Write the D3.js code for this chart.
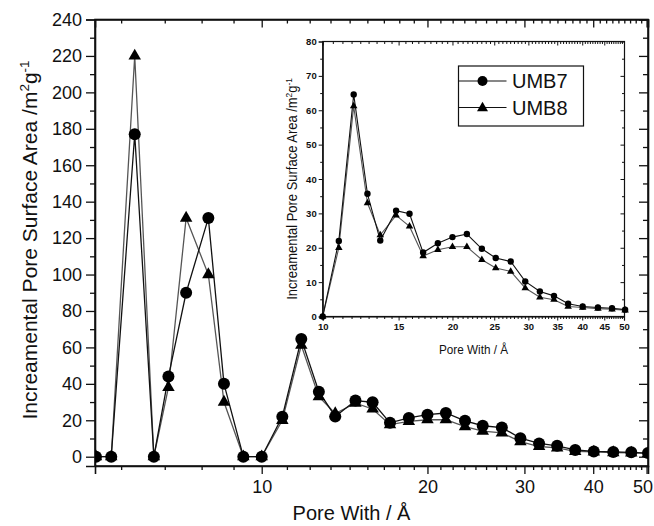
<!DOCTYPE html>
<html>
<head>
<meta charset="utf-8">
<script src="https://cdn.jsdelivr.net/npm/d3@7/dist/d3.min.js"></script>
<style>
  html, body { margin: 0; padding: 0; background: #fff; }
  svg { display: block; }
  text { font-family: "Liberation Sans", Arial, Helvetica, sans-serif; fill: #111; }
</style>
</head>
<body>
<svg id="chart" width="654" height="526"></svg>
<script>
// ---------------- DATA ----------------
const poreWidth = [5.0, 5.33, 5.88, 6.37, 6.77, 7.29, 8.0, 8.54, 9.26, 10.0,
  10.9, 11.8, 12.7, 13.6, 14.8, 15.9, 17.1, 18.5, 20.0, 21.6, 23.4, 25.2, 27.3,
  29.5, 31.9, 34.4, 37.1, 40.1, 43.5, 46.9, 50.3];
const umb7 = [0, 0, 177, 0, 44, 90, 131, 40, 0, 0,
  22.0, 64.6, 35.7, 22.1, 30.8, 29.9, 18.6, 21.3, 23.1, 24.0, 19.7, 17.0, 16.0,
  10.2, 7.3, 6.0, 3.7, 2.9, 2.6, 2.4, 2.0];
const umb8 = [0, 0, 220, 0, 38, 131, 100, 30, 0, 0,
  20.0, 61.2, 33.0, 23.7, 29.4, 26.2, 17.6, 19.4, 20.3, 20.3, 16.5, 14.1, 13.1,
  8.3, 5.6, 4.9, 2.9, 2.6, 2.3, 2.1, 1.8];
const seriesNames = ["UMB7", "UMB8"];

const mainXTicks = [10, 20, 30, 40, 50];
const mainYTicks = [0, 20, 40, 60, 80, 100, 120, 140, 160, 180, 200, 220, 240];
const insetXTicks = [10, 15, 20, 25, 30, 35, 40, 45, 50];
const insetYTicks = [0, 10, 20, 30, 40, 50, 60, 70, 80];

const mainXLabel = "Pore With / Å";
const mainYLabel = "Increamental Pore Surface Area /m";
// ---------------------------------------

const svg = d3.select("#chart");

const rows = poreWidth.map((p, i) => ({ p, a: umb7[i], b: umb8[i] }));

// ---------- main chart ----------
const M = { left: 95, right: 648, top: 19.5, bottom: 466 };
const x = d3.scaleLog().domain([4.98, 50.3]).range([M.left, M.right]);
const y = d3.scaleLinear().domain([-5.1, 240]).range([M.bottom, M.top]);

function minorBetween(majors, step, extent, parts) {
  const out = [];
  const first = majors[0] - step;
  for (let m = first; m <= majors[majors.length - 1]; m += step) {
    for (let j = 1; j < parts; j++) {
      const v = m + step * j / parts;
      if (v >= extent[0] && v <= extent[1]) out.push(v);
    }
  }
  return out;
}
const mainXMinor = minorBetween(mainXTicks, 10, x.domain(), 9);
const mainYMinor = mainYTicks.map(v => v + 10).filter(v => v < 240);

const axisStyle = g => {
  g.selectAll(".domain").attr("stroke", "#111").attr("stroke-width", 1.6);
  g.selectAll(".tick line").attr("stroke", "#111").attr("stroke-width", 1.3);
};

// frame
svg.append("rect").attr("x", M.left).attr("y", M.top)
  .attr("width", M.right - M.left).attr("height", M.bottom - M.top)
  .attr("fill", "none").attr("stroke", "#111").attr("stroke-width", 1.6);

// bottom axis
const gxb = svg.append("g").attr("transform", `translate(0,${M.bottom})`);
gxb.call(d3.axisBottom(x).tickValues(mainXTicks).tickFormat(d3.format("d")).tickSize(8).tickPadding(6))
  .call(axisStyle);
gxb.selectAll("text").attr("font-size", 18).attr("fill", "#111")
  .attr("dx", d => d === 50 ? -4 : 0);
svg.append("g").attr("transform", `translate(0,${M.bottom})`)
  .call(d3.axisBottom(x).tickValues(mainXMinor).tickFormat("").tickSize(4)).call(axisStyle)
  .select(".domain").remove();
// top axis (inward)
svg.append("g").attr("transform", `translate(0,${M.top})`)
  .call(d3.axisTop(x).tickValues(mainXTicks).tickFormat("").tickSize(-8)).call(axisStyle);
svg.append("g").attr("transform", `translate(0,${M.top})`)
  .call(d3.axisTop(x).tickValues(mainXMinor).tickFormat("").tickSize(-4)).call(axisStyle)
  .select(".domain").remove();

// left axis
const gyl = svg.append("g").attr("transform", `translate(${M.left},0)`);
gyl.call(d3.axisLeft(y).tickValues(mainYTicks).tickFormat(d3.format("d")).tickSize(9).tickPadding(4))
  .call(axisStyle);
gyl.selectAll("text").attr("font-size", 18).attr("fill", "#111");
svg.append("g").attr("transform", `translate(${M.left},0)`)
  .call(d3.axisLeft(y).tickValues(mainYMinor).tickFormat("").tickSize(5)).call(axisStyle)
  .select(".domain").remove();
// right axis (inward)
svg.append("g").attr("transform", `translate(${M.right},0)`)
  .call(d3.axisRight(y).tickValues(mainYTicks).tickFormat("").tickSize(-9)).call(axisStyle);
svg.append("g").attr("transform", `translate(${M.right},0)`)
  .call(d3.axisRight(y).tickValues(mainYMinor).tickFormat("").tickSize(-5)).call(axisStyle)
  .select(".domain").remove();

// clip
svg.append("clipPath").attr("id", "mainClip").append("rect")
  .attr("x", M.left).attr("y", M.top).attr("width", M.right - M.left).attr("height", M.bottom - M.top);

const symCircle = r => d3.symbol().type(d3.symbolCircle).size(Math.PI * r * r)();
const symTri = s => d3.symbol().type(d3.symbolTriangle).size(Math.sqrt(3) / 4 * s * s)();

function drawSeries(g, xs, ys, data, opt) {
  const lineA = d3.line().x(d => xs(d.p)).y(d => ys(d.a));
  const lineB = d3.line().x(d => xs(d.p)).y(d => ys(d.b));
  g.append("path").datum(data).attr("d", lineB).attr("fill", "none")
    .attr("stroke", "#555").attr("stroke-width", opt.lw);
  g.append("path").datum(data).attr("d", lineA).attr("fill", "none")
    .attr("stroke", "#111").attr("stroke-width", opt.lw);
  g.selectAll(".tri").data(data).join("path").attr("class", "tri")
    .attr("transform", d => `translate(${xs(d.p)},${ys(d.b)})`)
    .attr("d", symTri(opt.tri)).attr("fill", "#000");
  g.selectAll(".cir").data(data).join("path").attr("class", "cir")
    .attr("transform", d => `translate(${xs(d.p)},${ys(d.a)})`)
    .attr("d", symCircle(opt.r)).attr("fill", "#000");
}

const gMain = svg.append("g").attr("clip-path", "url(#mainClip)");
drawSeries(gMain, x, y, rows, { lw: 1.3, r: 6, tri: 12.5 });

// main axis titles
svg.append("text").attr("x", 351.5).attr("y", 520).attr("text-anchor", "middle")
  .attr("font-size", 20).text(mainXLabel);

const yl = svg.append("text").attr("transform", "translate(37,240) rotate(-90)")
  .attr("text-anchor", "middle").attr("font-size", 21);
yl.append("tspan").text(mainYLabel);
yl.append("tspan").attr("dy", -8).attr("font-size", 13.5).text("2");
yl.append("tspan").attr("dy", 8).text("g");
yl.append("tspan").attr("dy", -8).attr("font-size", 13.5).text("-1");

// ---------- inset ----------
const I = { left: 322.7, right: 624.5, top: 41.5, bottom: 316.5 };
const xi = d3.scaleLog().domain([10, 50]).range([I.left, 624]);
const yi = d3.scaleLinear().domain([0, 80]).range([I.bottom, I.top]);
const insetXMinor = minorBetween(insetXTicks, 5, [10, 50], 9);
const insetYMinor = insetYTicks.map(v => v + 5).filter(v => v < 80);

svg.append("rect").attr("x", I.left).attr("y", I.top)
  .attr("width", I.right - I.left).attr("height", I.bottom - I.top)
  .attr("fill", "#fff").attr("stroke", "#111").attr("stroke-width", 1.2);

const insetAxisStyle = g => {
  g.selectAll(".domain").attr("stroke", "#111").attr("stroke-width", 1.2);
  g.selectAll(".tick line").attr("stroke", "#111").attr("stroke-width", 1);
};
const gxi = svg.append("g").attr("transform", `translate(0,${I.bottom})`);
gxi.call(d3.axisBottom(xi).tickValues(insetXTicks).tickFormat(d3.format("d")).tickSize(4).tickPadding(3))
  .call(insetAxisStyle);
gxi.selectAll("text").attr("font-size", 9.5).attr("font-weight", "bold").attr("fill", "#111");
svg.append("g").attr("transform", `translate(0,${I.bottom})`)
  .call(d3.axisBottom(xi).tickValues(insetXMinor).tickFormat("").tickSize(2.5)).call(insetAxisStyle)
  .select(".domain").remove();
svg.append("g").attr("transform", `translate(0,${I.top})`)
  .call(d3.axisTop(xi).tickValues(insetXTicks).tickFormat("").tickSize(-4)).call(insetAxisStyle)
  .select(".domain").remove();
svg.append("g").attr("transform", `translate(0,${I.top})`)
  .call(d3.axisTop(xi).tickValues(insetXMinor).tickFormat("").tickSize(-2.5)).call(insetAxisStyle)
  .select(".domain").remove();

const gyi = svg.append("g").attr("transform", `translate(${I.left},0)`);
gyi.call(d3.axisLeft(yi).tickValues(insetYTicks).tickFormat(d3.format("d")).tickSize(4).tickPadding(2))
  .call(insetAxisStyle);
gyi.selectAll("text").attr("font-size", 9.5).attr("font-weight", "bold").attr("fill", "#111");
svg.append("g").attr("transform", `translate(${I.left},0)`)
  .call(d3.axisLeft(yi).tickValues(insetYMinor).tickFormat("").tickSize(2.5)).call(insetAxisStyle)
  .select(".domain").remove();
svg.append("g").attr("transform", `translate(${I.right},0)`)
  .call(d3.axisRight(yi).tickValues(insetYTicks).tickFormat("").tickSize(-4)).call(insetAxisStyle)
  .select(".domain").remove();
svg.append("g").attr("transform", `translate(${I.right},0)`)
  .call(d3.axisRight(yi).tickValues(insetYMinor).tickFormat("").tickSize(-2.5)).call(insetAxisStyle)
  .select(".domain").remove();

const gInset = svg.append("g");
drawSeries(gInset, xi, yi, rows.filter(d => d.p >= 10), { lw: 1.1, r: 3.2, tri: 7.5 });

svg.append("text").attr("x", 473.5).attr("y", 354).attr("text-anchor", "middle")
  .attr("font-size", 13).attr("textLength", 69).attr("lengthAdjust", "spacingAndGlyphs")
  .text(mainXLabel);

const yli = svg.append("text").attr("transform", "translate(297,189) rotate(-90)")
  .attr("text-anchor", "middle").attr("font-size", 14);
yli.append("tspan").text(mainYLabel);
yli.append("tspan").attr("dy", -5).attr("font-size", 9).text("2");
yli.append("tspan").attr("dy", 5).text("g");
yli.append("tspan").attr("dy", -5).attr("font-size", 9).text("-1");
// compress to match condensed look
(function () {
  const bb = yli.node().getBBox();
  const target = 222;
  const s = target / bb.width;
  yli.attr("transform", `translate(297,189) rotate(-90) scale(${s},1)`);
})();

// legend
const L = { x: 458.5, y: 66, w: 125, h: 60 };
svg.append("rect").attr("x", L.x).attr("y", L.y).attr("width", L.w).attr("height", L.h)
  .attr("fill", "#fff").attr("stroke", "#111").attr("stroke-width", 1.2);
const legY = [81, 107.5];
seriesNames.forEach((name, i) => {
  svg.append("line").attr("x1", L.x).attr("x2", 506.5).attr("y1", legY[i]).attr("y2", legY[i])
    .attr("stroke", "#111").attr("stroke-width", 1.2);
  svg.append("path").attr("transform", `translate(482.5,${legY[i] + (i === 1 ? 0.5 : 0)})`)
    .attr("d", i === 0 ? symCircle(5) : symTri(11)).attr("fill", "#000");
  svg.append("text").attr("x", 512).attr("y", legY[i] + 7).attr("font-size", 20).text(name);
});
</script>
</body>
</html>
